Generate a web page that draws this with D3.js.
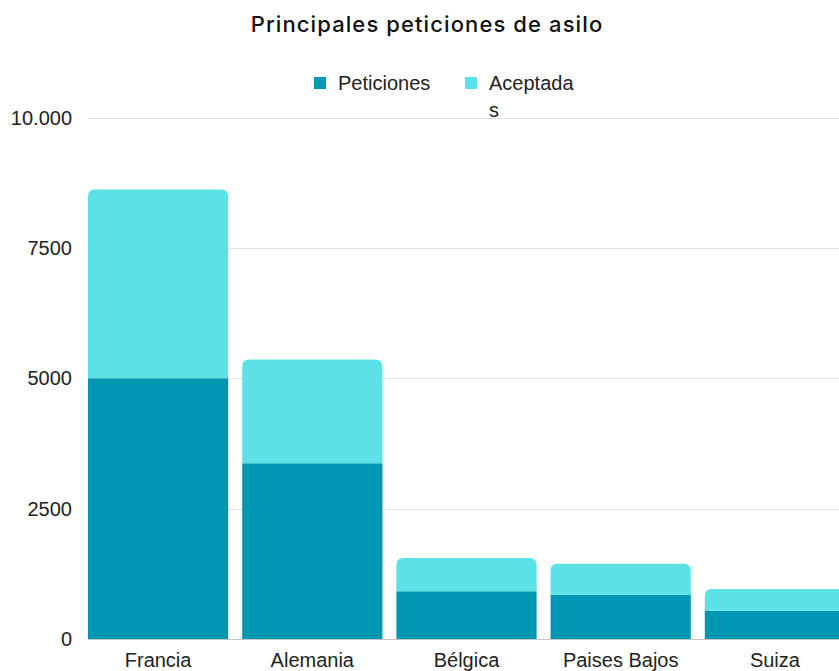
<!DOCTYPE html>
<html lang="es">
<head>
<meta charset="UTF-8">
<title>Principales peticiones de asilo</title>
<script src="https://d3js.org/d3.v7.min.js"></script>
<style>
    body { margin: 0; padding: 0; background: #fff; overflow: hidden; }
    svg text { font-family: "Liberation Sans", Arial, sans-serif; fill: #222; }
    .title { font-family: Inter, sans-serif; font-weight: 450; letter-spacing: 1.1px; fill: #111; }
</style>
</head>
<body>
<div id="chart"></div>
<script>
    // data
    const paises = ["Francia", "Alemania", "Bélgica", "Paises Bajos", "Suiza"];
    const peticiones = [5000, 3370, 915, 850, 540];
    const aceptadas = [3620, 1990, 640, 595, 420];
    const series = ["Peticiones", "Aceptadas"];
    const yTicks = [0, 2500, 5000, 7500, 10000];
    const yTickLabels = ["0", "2500", "5000", "7500", "10.000"];

    const width = 839, height = 671;
    const colors = ["#0097b2", "#5ce1e6"];

    const svg = d3.select("#chart").append("svg")
        .attr("width", width)
        .attr("height", height);

    const x = d3.scaleBand()
        .domain(paises)
        .range([88, 845])
        .paddingInner(0.0907)
        .paddingOuter(0);

    const y = d3.scaleLinear()
        .domain([0, 10000])
        .range([639, 117.5]);

    // title
    svg.append("text")
        .attr("class", "title")
        .attr("x", 427)
        .attr("y", 32)
        .attr("text-anchor", "middle")
        .style("font-size", "22px")
        .text("Principales peticiones de asilo");

    // gridlines
    svg.append("g")
        .selectAll("line")
        .data(yTicks)
        .enter()
        .append("line")
        .attr("x1", 88)
        .attr("x2", width)
        .attr("y1", d => Math.round(y(d)) + 0.5)
        .attr("y2", d => Math.round(y(d)) + 0.5)
        .attr("stroke", d => d === 0 ? "#c4c4c4" : "#e2e2e2")
        .attr("stroke-width", 1.2);

    // y tick labels
    svg.append("g")
        .selectAll("text")
        .data(yTicks)
        .enter()
        .append("text")
        .attr("x", 72)
        .attr("y", d => y(d) + 7)
        .attr("text-anchor", "end")
        .style("font-size", "20px")
        .text((d, i) => yTickLabels[i]);

    // stacked bars
    const rows = paises.map((p, i) => ({ pais: p, Peticiones: peticiones[i], Aceptadas: aceptadas[i] }));
    const stacked = d3.stack().keys(series)(rows);

    const r = 7;
    function topRounded(x0, y0, w, h) {
        return `M${x0},${y0 + h}V${y0 + r}Q${x0},${y0} ${x0 + r},${y0}H${x0 + w - r}Q${x0 + w},${y0} ${x0 + w},${y0 + r}V${y0 + h}Z`;
    }

    stacked.forEach((layer, li) => {
        svg.append("g")
            .attr("fill", colors[li])
            .selectAll("path")
            .data(layer)
            .enter()
            .append("path")
            .attr("d", d => {
                const x0 = x(d.data.pais), w = x.bandwidth();
                const y0 = y(d[1]), h = y(d[0]) - y(d[1]);
                if (li === series.length - 1) return topRounded(x0, y0, w, h);
                return `M${x0},${y0}h${w}v${h}h${-w}Z`;
            });
    });

    // x labels
    svg.append("g")
        .selectAll("text")
        .data(paises)
        .enter()
        .append("text")
        .attr("x", d => x(d) + x.bandwidth() / 2)
        .attr("y", 667)
        .attr("text-anchor", "middle")
        .style("font-size", "20px")
        .text(d => d);

    // legend
    const legend = svg.append("g");
    legend.append("rect")
        .attr("x", 314).attr("y", 77)
        .attr("width", 12).attr("height", 12)
        .attr("fill", colors[0]);
    legend.append("text")
        .attr("x", 338).attr("y", 90)
        .style("font-size", "20px")
        .text(series[0]);
    legend.append("rect")
        .attr("x", 465).attr("y", 77)
        .attr("width", 12).attr("height", 12)
        .attr("fill", colors[1]);
    const lt = legend.append("text")
        .attr("x", 489).attr("y", 90)
        .style("font-size", "20px");
    lt.append("tspan").attr("x", 489).text("Aceptada");
    lt.append("tspan").attr("x", 489).attr("dy", 27).text("s");
</script>
</body>
</html>
